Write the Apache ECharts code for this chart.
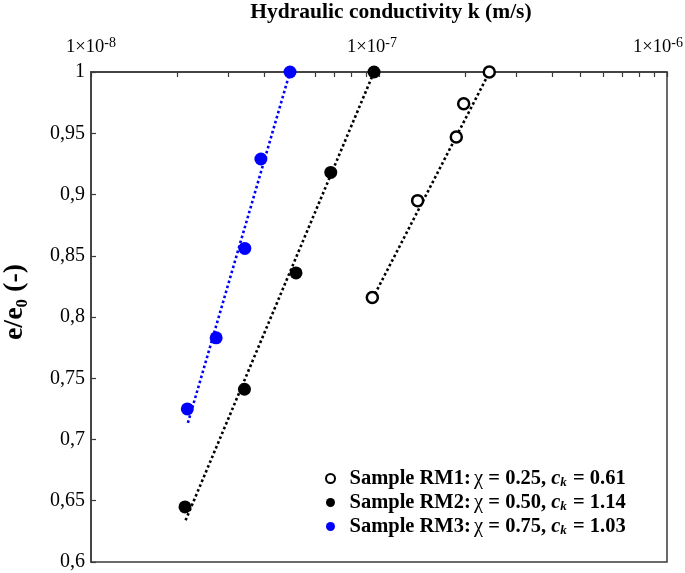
<!DOCTYPE html>
<html>
<head>
<meta charset="utf-8">
<script src="https://cdn.jsdelivr.net/npm/echarts@6/dist/echarts.min.js"></script>
<style>html,body{margin:0;padding:0;background:#fff}#c{width:685px;height:573px}</style>
</head>
<body>
<div id="c"></div>
<script>
// ---- data ----
const sampleNames = ['Sample RM1', 'Sample RM2', 'Sample RM3'];
const chiValues = ['0.25', '0.50', '0.75'];
const ckValues = ['0.61', '1.14', '1.03'];

const rm1K = [9.48e-8, 1.362e-7, 1.855e-7, 1.968e-7, 2.415e-7];
const rm1E = [0.816, 0.895, 0.947, 0.974, 1.0];
const rm2K = [2.12e-8, 3.41e-8, 5.15e-8, 6.80e-8, 9.61e-8];
const rm2E = [0.645, 0.741, 0.836, 0.918, 1.0];
const rm3K = [2.16e-8, 2.72e-8, 3.42e-8, 3.89e-8, 4.91e-8];
const rm3E = [0.725, 0.783, 0.856, 0.929, 1.0];

const fit1K = [9.5e-8, 2.42e-7];  const fit1E = [0.815, 1.0];
const fit2K = [2.13e-8, 9.61e-8]; const fit2E = [0.634, 1.0];
const fit3K = [2.17e-8, 4.91e-8]; const fit3E = [0.7135, 1.0];

const xTickExponents = [-8, -7, -6];
const yTicks = [0.6, 0.65, 0.7, 0.75, 0.8, 0.85, 0.9, 0.95, 1];
// ---------------

const zip = (a, b) => a.map((v, i) => [v, b[i]]);
const serif = 'Liberation Serif';
const axisColor = '#3a3a3a';

// minor tick positions (log10 space) for the overlay tick axis
const minorTicks = [];
for (let e = -8; e < -6; e++) {
  for (let m = 1; m <= 9; m++) minorTicks.push(Math.log10(m) + e);
}
minorTicks.push(-6);

const chart = echarts.init(document.getElementById('c'), null, {renderer: 'canvas'});
chart.setOption({
  animation: false,
  backgroundColor: '#fff',
  grid: {left: 91, top: 72, width: 576, height: 490, show: true, borderColor: axisColor, borderWidth: 1.5,
         containLabel: false, outerBoundsMode: 'none'},
  xAxis: [{
    type: 'log', logBase: 10, min: 1e-8, max: 1e-6, position: 'top',
    name: 'Hydraulic conductivity k (m/s)', nameLocation: 'middle', nameGap: 49,
    nameTextStyle: {fontFamily: serif, fontWeight: 'bold', fontSize: 21.5, color: '#000', padding: [0, 0, 0, 24]},
    axisLine: {show: true, lineStyle: {color: axisColor, width: 1.5}},
    axisTick: {show: false},
    splitLine: {show: false},
    axisLabel: {
      margin: 13,
      formatter: function (v) {
        const e = Math.round(Math.log10(v));
        if (e === -6) return '{a|1×10}{sup|' + e + '}{pad|}';
        if (e === -7) return '{a|1×10}{sup|' + e + '}{pad2|}';
        return '{a|1×10}{sup|' + e + '}';
      },
      rich: {
        a: {fontFamily: serif, fontSize: 18.5, color: '#000'},
        sup: {fontFamily: serif, fontSize: 14, color: '#000', padding: [0, 0, 9, 0]},
        pad: {width: 18},
        pad2: {width: 14}
      }
    }
  }, {
    type: 'value', min: -8, max: -6, position: 'bottom', offset: -490,
    axisLine: {show: false}, axisLabel: {show: false}, splitLine: {show: false},
    axisTick: {show: true, inside: false, length: 5, customValues: minorTicks, lineStyle: {color: axisColor, width: 1.2}}
  }],
  yAxis: {
    type: 'value', min: 0.6, max: 1, interval: 0.05,
    name: '{b|e/e}{sub|0}{b| (-)}', nameLocation: 'middle', nameGap: 60,
    nameTextStyle: {
      padding: [0, 0, 0, 30],
      rich: {
        b: {fontFamily: serif, fontWeight: 'bold', fontSize: 28, color: '#000'},
        sub: {fontFamily: serif, fontWeight: 'bold', fontSize: 17, color: '#000', verticalAlign: 'bottom', lineHeight: 32}
      }
    },
    axisLine: {show: true, lineStyle: {color: axisColor, width: 1.5}},
    axisTick: {show: true, inside: true, length: 5, lineStyle: {color: axisColor, width: 1.2}},
    splitLine: {show: false},
    axisLabel: {
      margin: 6, fontFamily: serif, fontSize: 20, color: '#000',
      formatter: v => String(+v.toFixed(2)).replace('.', ',')
    }
  },
  legend: {
    data: sampleNames,
    orient: 'vertical', left: 320, top: 462,
    itemWidth: 28, itemHeight: 9, itemGap: 1,
    selectedMode: false,
    formatter: function (name) {
      const i = sampleNames.indexOf(name);
      return '{b|' + name + ':} {chi|χ}{b| = ' + chiValues[i] + ', }{c|c}{k|k}{b| = ' + ckValues[i] + '}';
    },
    textStyle: {
      lineHeight: 23,
      rich: {
        b: {fontFamily: serif, fontWeight: 'bold', fontSize: 20.5, color: '#000'},
        chi: {fontFamily: serif, fontSize: 20.5, color: '#000'},
        c: {fontFamily: serif, fontWeight: 'bold', fontStyle: 'italic', fontSize: 20.5, color: '#000'},
        k: {fontFamily: serif, fontWeight: 'bold', fontStyle: 'italic', fontSize: 13, color: '#000', padding: [8, 1, 0, 0]}
      }
    }
  },
  series: [
    {type: 'line', name: 'fit1', data: zip(fit1K, fit1E), showSymbol: false, symbol: 'none', z: 1,
     lineStyle: {color: '#000', width: 2.6, type: 'dotted'}},
    {type: 'line', name: 'fit2', data: zip(fit2K, fit2E), showSymbol: false, symbol: 'none', z: 1,
     lineStyle: {color: '#000', width: 2.6, type: 'dotted'}},
    {type: 'line', name: 'fit3', data: zip(fit3K, fit3E), showSymbol: false, symbol: 'none', z: 1,
     lineStyle: {color: '#0000ff', width: 2.6, type: 'dotted'}},
    {type: 'scatter', name: sampleNames[0], data: zip(rm1K, rm1E), symbol: 'circle', symbolSize: 11, clip: false, z: 3,
     itemStyle: {color: '#fff', borderColor: '#000', borderWidth: 2.5, opacity: 1}},
    {type: 'scatter', name: sampleNames[1], data: zip(rm2K, rm2E), symbol: 'circle', symbolSize: 13, clip: false, z: 3,
     itemStyle: {color: '#000', opacity: 1}},
    {type: 'scatter', name: sampleNames[2], data: zip(rm3K, rm3E), symbol: 'circle', symbolSize: 13, clip: false, z: 3,
     itemStyle: {color: '#0000ff', opacity: 1}}
  ]
});
</script>
</body>
</html>
